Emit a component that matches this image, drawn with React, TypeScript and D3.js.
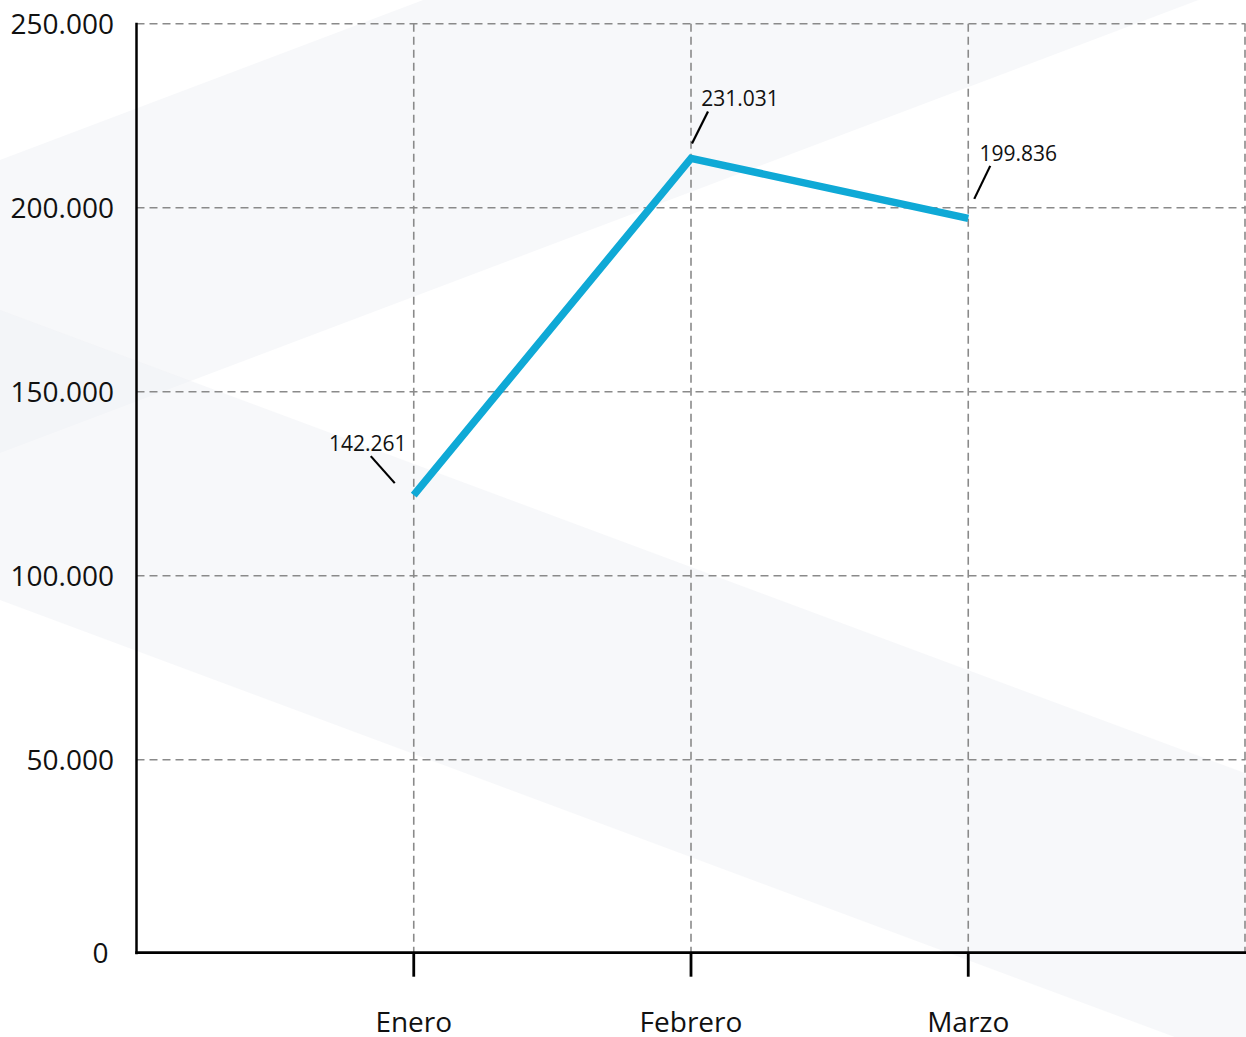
import React from "react";
import * as d3 from "d3";

const categories = ["Enero", "Febrero", "Marzo"];
const plottedValues = [121900, 213400, 197100];
const labelTexts = ["142.261", "231.031", "199.836"];
const yTicks = [0, 50000, 100000, 150000, 200000, 250000];

const W = 1246;
const H = 1037;
const LEFT = 136.5;
const RIGHT = 1245.5;
const TOP = 23.7;
const ZERO = 943.7;
const AXIS_Y = 952.7;

// label placement relative to each point: leader start, leader end, text anchor (center, baseline)
const labelLayout = [
  { l1: [-19, -12], l2: [-43, -39], t: [-46, -44] },
  { l1: [1, -15], l2: [17, -47], t: [49, -52.5] },
  { l1: [6, -19.5], l2: [22, -52.5], t: [50, -57] },
];

const locale = d3.formatLocale({ decimal: ",", thousands: ".", grouping: [3], currency: ["", "€"] });
const fmt = locale.format(",");

export default function App() {
  const x = d3.scalePoint<string>().domain(categories).range([LEFT, RIGHT]).padding(1);
  const y = d3.scaleLinear().domain([0, 250000]).range([ZERO, TOP]);
  const line = d3
    .line<number>()
    .x((_, i) => x(categories[i]) as number)
    .y((d) => y(d));

  const bandColor = "rgb(240,242,246)";
  const slopeA = -0.378;
  const slopeB = 0.372;
  const bandA = [
    [0, 160],
    [W, 160 + slopeA * W],
    [W, 453 + slopeA * W],
    [0, 453],
  ];
  const bandB = [
    [0, 310],
    [W, 310 + slopeB * W],
    [W, 600 + slopeB * W],
    [0, 600],
  ];
  const poly = (pts: number[][]) => "M" + pts.map((p) => p.join(",")).join("L") + "Z";

  const font = "'Open Sans', 'Noto Sans', sans-serif";
  const gridColor = "#8a8a8a";

  return (
    <svg
      width={W}
      height={H}
      style={{ position: "absolute", left: 0, top: 0, background: "#fff" }}
      fontFamily={font}
    >
      <path d={poly(bandA)} fill={bandColor} opacity={0.5} />
      <path d={poly(bandB)} fill={bandColor} opacity={0.5} />

      {/* horizontal grid */}
      {yTicks
        .filter((t) => t > 0)
        .map((t) => (
          <line
            key={"h" + t}
            x1={LEFT}
            x2={RIGHT}
            y1={y(t)}
            y2={y(t)}
            stroke={gridColor}
            strokeWidth={1.6}
            strokeDasharray="8,5"
          />
        ))}
      {/* vertical grid */}
      {categories.map((c) => (
        <line
          key={"v" + c}
          x1={x(c)}
          x2={x(c)}
          y1={TOP}
          y2={AXIS_Y}
          stroke={gridColor}
          strokeWidth={1.6}
          strokeDasharray="8,5"
        />
      ))}
      <line x1={RIGHT - 0.5} x2={RIGHT - 0.5} y1={TOP} y2={AXIS_Y} stroke={gridColor} strokeWidth={1.6} strokeDasharray="8,5" />

      {/* axes */}
      <line x1={LEFT} x2={LEFT} y1={TOP - 1} y2={AXIS_Y + 1.5} stroke="#000" strokeWidth={2.5} />
      <line x1={LEFT - 1.2} x2={W} y1={AXIS_Y} y2={AXIS_Y} stroke="#000" strokeWidth={2.8} />
      {categories.map((c) => (
        <g key={"t" + c}>
          <line x1={x(c)} x2={x(c)} y1={AXIS_Y} y2={AXIS_Y + 24} stroke="#000" strokeWidth={2.8} />
          <text x={x(c)} y={AXIS_Y + 79.5} textAnchor="middle" fontSize={28} fill="#111">
            {c}
          </text>
        </g>
      ))}

      {/* y tick labels */}
      {yTicks.map((t) =>
        t === 0 ? (
          <text key={"yl" + t} x={LEFT - 28} y={AXIS_Y} dy="0.36em" textAnchor="end" fontSize={28} fill="#111">
            {fmt(t)}
          </text>
        ) : (
          <text key={"yl" + t} x={LEFT - 22.5} y={y(t)} dy="0.36em" textAnchor="end" fontSize={28} fill="#111">
            {fmt(t)}
          </text>
        )
      )}

      {/* series line */}
      <path d={line(plottedValues) || ""} fill="none" stroke="#0fa9d6" strokeWidth={7.5} strokeLinejoin="miter" />

      {/* labels */}
      {plottedValues.map((v, i) => {
        const px = x(categories[i]) as number;
        const py = y(v);
        const L = labelLayout[i];
        return (
          <g key={"lab" + i}>
            <line
              x1={px + L.l1[0]}
              y1={py + L.l1[1]}
              x2={px + L.l2[0]}
              y2={py + L.l2[1]}
              stroke="#000"
              strokeWidth={2.2}
            />
            <text x={px + L.t[0]} y={py + L.t[1]} textAnchor="middle" fontSize={21} fill="#111">
              {labelTexts[i]}
            </text>
          </g>
        );
      })}
    </svg>
  );
}
